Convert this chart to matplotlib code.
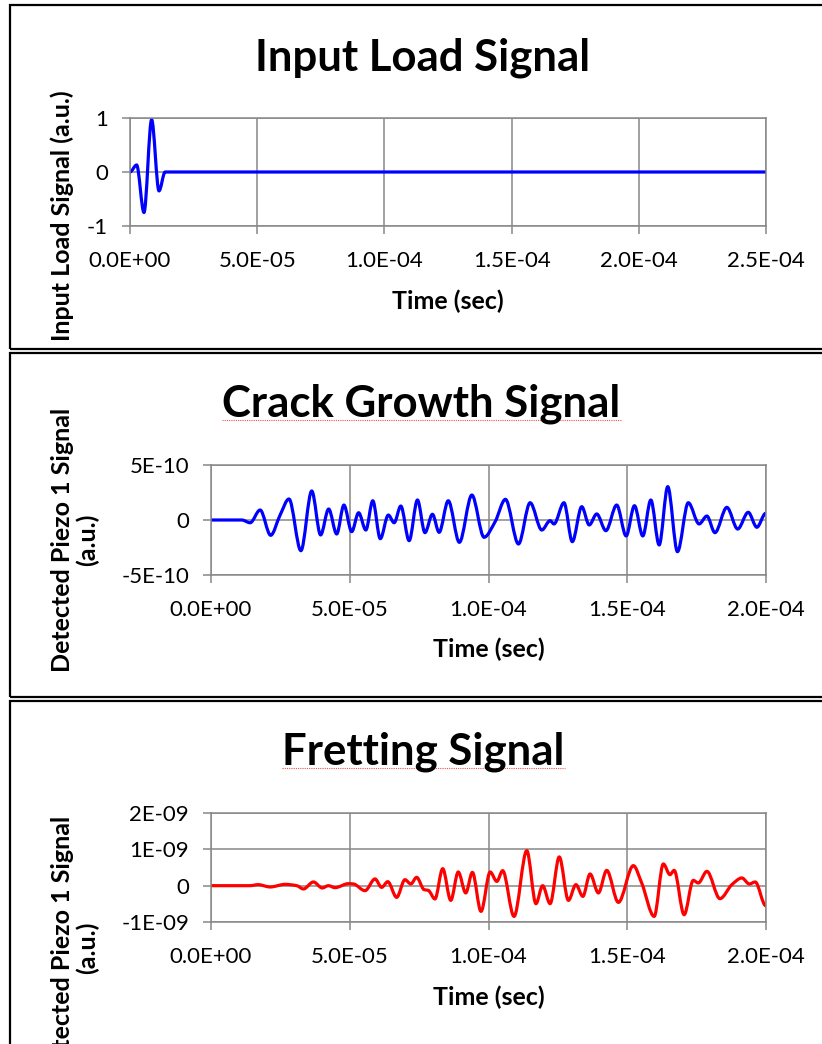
import numpy as np
import matplotlib
matplotlib.use('Agg')
import matplotlib.pyplot as plt
from matplotlib.path import Path
from matplotlib.patches import PathPatch, Rectangle
from matplotlib.lines import Line2D

plt.rcParams['font.family'] = ['Lato', 'DejaVu Sans']

# ---- data ----
# input load: time in microseconds, value in a.u.
load_t_us = [0.0, 2.6, 5.5, 8.5, 11.4, 13.8, 250.0]
load_v = [0.0, 0.13, -0.75, 0.97, -0.35, 0.0, 0.0]

# crack growth: time in microseconds, value in units of 1E-10
crack_t_us = [0.0, 11.1, 14.1, 17.7, 21.5, 24.9, 28.1, 32.4, 36.3, 39.5,
              42.4, 45.3, 47.9, 50.7, 53.2, 55.8, 58.3, 61.0, 63.9, 66.0,
              68.4, 71.4, 74.4, 77.1, 79.8, 82.2, 85.5, 89.5, 94.0, 98.4,
              102.4, 106.1, 110.8, 115.0, 119.2, 122.2, 123.6, 127.2, 130.2, 133.6,
              136.3, 139.0, 142.3, 146.2, 149.6, 152.6, 155.6, 158.5, 161.5, 164.6,
              168.1, 172.0, 175.9, 178.7, 181.6, 185.9, 189.8, 193.6, 196.7, 199.9]
crack_v = [0.0, 0.0, -0.25, 0.91, -1.39, 0.45, 1.91, -2.79, 2.64, -1.36,
           1.0, -1.27, 1.36, -1.06, 0.66, -0.91, 1.75, -1.70, 0.45, -0.25,
           1.27, -1.88, 1.82, -1.15, 0.52, -1.12, 1.75, -2.03, 2.27, -1.57,
           -0.15, 1.88, -2.18, 1.57, -0.91, -0.06, -0.36, 1.57, -1.97, 1.21,
           -0.45, 0.55, -0.97, 1.36, -1.45, 1.30, -1.45, 1.82, -2.27, 3.03,
           -2.88, 1.57, -0.36, 0.36, -1.15, 1.15, -0.82, 0.70, -0.66, 0.61]

# fretting: time in microseconds, value in units of 1E-09
fret_t_us = [0.0, 14.1, 17.0, 21.3, 26.7, 30.9, 33.3, 36.9, 40.1, 42.3,
             44.7, 49.5, 51.3, 55.5, 59.1, 61.5, 63.7, 66.9, 69.9, 72.0,
             74.1, 76.8, 78.3, 80.7, 83.5, 86.4, 89.1, 91.8, 94.2, 97.3,
             100.6, 103.0, 105.1, 109.2, 113.8, 117.1, 119.5, 122.2, 125.5, 128.8,
             131.5, 134.0, 136.6, 139.6, 142.6, 146.8, 152.2, 155.2, 159.7, 163.0,
             165.4, 166.9, 170.5, 173.8, 175.6, 178.7, 183.4, 187.7, 191.3, 194.0,
             196.1, 199.9]
fret_v = [0.0, 0.0, 0.028, -0.036, 0.036, 0.0, -0.091, 0.102, -0.063, 0.0,
          -0.055, 0.055, 0.047, -0.138, 0.185, -0.047, 0.110, -0.322, 0.165, 0.047,
          0.229, -0.110, -0.129, -0.366, 0.468, -0.405, 0.377, -0.201, 0.366, -0.708,
          0.377, 0.118, 0.413, -0.846, 0.964, -0.496, 0.0, -0.496, 0.791, -0.405,
          0.028, -0.295, 0.322, -0.201, 0.421, -0.460, 0.551, 0.074, -0.846, 0.598,
          0.303, 0.421, -0.799, 0.146, 0.074, 0.394, -0.358, 0.028, 0.212, 0.047,
          0.102, -0.551]

load_xticks = [0, 5e-5, 1e-4, 1.5e-4, 2e-4, 2.5e-4]
load_xlabels = ['0.0E+00', '5.0E-05', '1.0E-04', '1.5E-04', '2.0E-04', '2.5E-04']
load_yticks = [-1, 0, 1]
load_ylabels = ['-1', '0', '1']

sig_xticks = [0, 5e-5, 1e-4, 1.5e-4, 2e-4]
sig_xlabels = ['0.0E+00', '5.0E-05', '1.0E-04', '1.5E-04', '2.0E-04']
crack_yticks = [-5e-10, 0, 5e-10]
crack_ylabels = ['-5E-10', '0', '5E-10']
fret_yticks = [-1e-9, 0, 1e-9, 2e-9]
fret_ylabels = ['-1E-09', '0', '1E-09', '2E-09']

W, H = 822, 1044
GRID = '#888888'


def smooth_path(x, y):
    # excel-like smoothed line: cubic bezier through the points, pchip tangents
    x = np.asarray(x, float)
    y = np.asarray(y, float)
    h = np.diff(x)
    d = np.diff(y) / h
    m = np.zeros_like(y)
    for k in range(1, len(x) - 1):
        if d[k - 1] * d[k] > 0:
            w1 = 2 * h[k] + h[k - 1]
            w2 = h[k] + 2 * h[k - 1]
            m[k] = (w1 + w2) / (w1 / d[k - 1] + w2 / d[k])
    verts = [(x[0], y[0])]
    codes = [Path.MOVETO]
    for i in range(len(x) - 1):
        verts += [(x[i] + h[i] / 3, y[i] + m[i] * h[i] / 3),
                  (x[i + 1] - h[i] / 3, y[i + 1] - m[i + 1] * h[i] / 3),
                  (x[i + 1], y[i + 1])]
        codes += [Path.CURVE4] * 3
    return Path(verts, codes)


def add_axes_px(left, top, right, bottom):
    return fig.add_axes([left / W, 1 - bottom / H, (right - left) / W, (bottom - top) / H])


def style(ax, xt, xl, yt, yl):
    ax.set_xticks(xt)
    ax.set_xticklabels(xl)
    ax.set_yticks(yt)
    ax.set_yticklabels(yl)
    ax.set_xlim(xt[0], xt[-1])
    ax.set_ylim(yt[0], yt[-1])
    ax.grid(True, color=GRID, lw=1.1)
    ax.set_axisbelow(True)
    for s in ax.spines.values():
        s.set_color(GRID)
        s.set_linewidth(1.1)
    ax.tick_params(direction='out', length=5.8, width=1.1, color=GRID,
                   labelsize=16, labelcolor='black')
    ax.tick_params(axis='y', pad=10)
    ax.tick_params(axis='x', pad=12)


def draw_signal(ax, t_us, v, scale, color):
    t = np.asarray(t_us) * 1e-6
    vv = np.asarray(v) * scale
    ax.add_patch(PathPatch(smooth_path(t, vv), facecolor='none', edgecolor=color,
                           lw=2.3, capstyle='round', joinstyle='round'))


fig = plt.figure(figsize=(W / 100, H / 100), dpi=100)

# chart borders
for top, bottom in [(5, 349), (353, 697), (701, 1100)]:
    fig.patches.append(Rectangle((10 / W, 1 - bottom / H), 1.0, (bottom - top) / H,
                                 transform=fig.transFigure, fill=False,
                                 edgecolor='black', lw=1.6))

ax1 = add_axes_px(130, 118, 766, 226)
style(ax1, load_xticks, load_xlabels, load_yticks, load_ylabels)
draw_signal(ax1, load_t_us, load_v, 1.0, '#0000ff')

ax2 = add_axes_px(211, 465, 766, 575)
style(ax2, sig_xticks, sig_xlabels, crack_yticks, crack_ylabels)
draw_signal(ax2, crack_t_us, crack_v, 1e-10, '#0000ff')

ax3 = add_axes_px(211, 813, 766, 922)
style(ax3, sig_xticks, sig_xlabels, fret_yticks, fret_ylabels)
draw_signal(ax3, fret_t_us, fret_v, 1e-9, '#ff0000')

titles = []
for txt, x, y in [('Input Load Signal', 423, 70), ('Crack Growth Signal', 421.5, 417),
                  ('Fretting Signal', 423.5, 765)]:
    titles.append(fig.text(x / W, 1 - y / H, txt, ha='center', va='baseline',
                           fontsize=31.5, fontweight='bold'))

for x, y in [(448, 301), (488.5, 649), (488.5, 997)]:
    fig.text(x / W, 1 - y / H, 'Time (sec)', ha='center', va='center',
             fontsize=18, fontweight='bold')

fig.text(62 / W, 1 - 216 / H, 'Input Load Signal (a.u.)', rotation=90,
         ha='center', va='center', fontsize=18, fontweight='bold')
for y in [540, 948]:
    fig.text(75 / W, 1 - y / H, 'Detected Piezo 1 Signal\n(a.u.)', rotation=90,
             ha='center', va='center', multialignment='center',
             fontsize=18, fontweight='bold', linespacing=1.05)

# spell-check squiggle under two of the titles
fig.canvas.draw()
for t, y in [(titles[1], 419.5), (titles[2], 768)]:
    bb = t.get_window_extent()
    fig.lines.append(Line2D([bb.x0 / W, bb.x1 / W], [1 - y / H, 1 - y / H],
                            transform=fig.transFigure, color='#f05050',
                            lw=0.8, linestyle=(0, (1, 1))))

fig.savefig('out.png', dpi=100)
